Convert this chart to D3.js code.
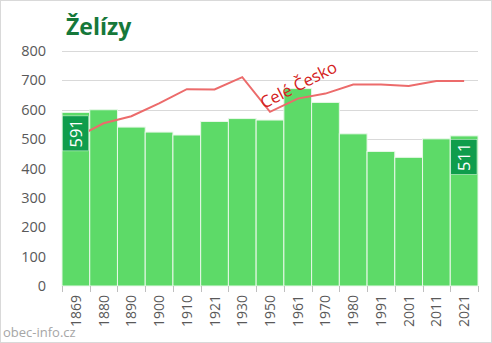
<!DOCTYPE html>
<html>
<head>
<meta charset="utf-8">
<script src="https://cdn.jsdelivr.net/npm/d3@7"></script>
<style>
  html, body { margin: 0; padding: 0; background: #fff; }
  svg { display: block; font-family: "Segoe UI", "Open Sans", "DejaVu Sans", sans-serif; }
</style>
</head>
<body>
<svg id="chart" width="492" height="343"></svg>
<script>
// Census years and population of Želízy
const years = ["1869","1880","1890","1900","1910","1921","1930","1950","1961","1970","1980","1991","2001","2011","2021"];
const population = [591, 600, 541, 524, 514, 560, 570, 565, 672, 625, 518, 458, 438, 501, 511];
// Whole-country trend rescaled to the village axis
const czechiaScaled = [505, 554, 578, 622, 670, 669, 711, 593, 638, 655, 686, 686, 681, 698, 698];
const yTicks = [0, 100, 200, 300, 400, 500, 600, 700, 800];

const svg = d3.select("#chart");
const W = 492, H = 343;
const m = { left: 62, right: 14, top: 51, bottom: 57 };

svg.append("rect").attr("x", 0.5).attr("y", 0.5).attr("width", W - 1).attr("height", H - 1)
  .attr("fill", "#fff").attr("stroke", "#d9d9d9");

const x = d3.scaleBand().domain(years).range([m.left, W - m.right]).padding(0);
const y = d3.scaleLinear().domain([0, 800]).range([H - m.bottom, m.top]);

// grid
svg.append("g").selectAll("line").data(yTicks.filter(d => d > 0)).join("line")
  .attr("x1", m.left).attr("x2", W - m.right)
  .attr("y1", d => Math.round(y(d)) + 0.5).attr("y2", d => Math.round(y(d)) + 0.5)
  .attr("stroke", "#d9d9d9").attr("stroke-width", 1);

// y labels
svg.append("g").selectAll("text").data(yTicks).join("text")
  .attr("x", 46).attr("y", d => y(d) + 5)
  .attr("text-anchor", "end").attr("font-size", 14.5).attr("fill", "#595959")
  .text(d => d);

// bars
svg.append("g").selectAll("rect").data(population).join("rect")
  .attr("x", (d, i) => x(years[i]))
  .attr("y", d => y(d))
  .attr("width", x.bandwidth())
  .attr("height", d => y(0) - y(d))
  .attr("fill", "#5dda68")
  .attr("stroke", "#e8f8e8").attr("stroke-width", 1);

// country line
const line = d3.line().x((d, i) => x(years[i]) + x.bandwidth() / 2).y(d => y(d));
svg.append("path").datum(czechiaScaled).attr("d", line)
  .attr("fill", "none").attr("stroke", "#ec6b6b").attr("stroke-width", 2);

// x axis ticks at band boundaries
const bounds = years.map(d => x(d)).concat([W - m.right]);
svg.append("g").selectAll("line").data(bounds).join("line")
  .attr("x1", d => Math.round(d) + 0.5).attr("x2", d => Math.round(d) + 0.5)
  .attr("y1", y(0)).attr("y2", y(0) + 6)
  .attr("stroke", "#bfbfbf");

// x labels
svg.append("g").selectAll("text").data(years).join("text")
  .attr("transform", d => `translate(${x(d) + x.bandwidth() / 2 + 5},${y(0) + 9}) rotate(-90)`)
  .attr("text-anchor", "end").attr("font-size", 14).attr("fill", "#595959")
  .text(d => d);

// value labels on first and last bars
[0, years.length - 1].forEach(i => {
  const bx = x(years[i]);
  const top = y(population[i]) + 3.5;
  const g = svg.append("g");
  g.append("rect").attr("x", bx + 0.5).attr("y", top).attr("width", x.bandwidth() - 1.5).attr("height", 35)
    .attr("fill", "#0f9d4c").attr("stroke", "#e8f8e8").attr("stroke-width", 0.5);
  g.append("text")
    .attr("transform", `translate(${bx + x.bandwidth() / 2 + 6},${top + 17.5}) rotate(-90)`)
    .attr("text-anchor", "middle").attr("font-size", 16.5).attr("fill", "#fff")
    .text(population[i]);
});

// series annotation
svg.append("text")
  .attr("transform", "translate(264,109) rotate(-27)")
  .attr("font-size", 16.5).attr("fill", "#d42020")
  .text("Celé Česko");

// title
svg.append("text").attr("x", 66).attr("y", 35)
  .attr("font-size", 23).attr("font-weight", "bold").attr("fill", "#16783a")
  .text("Želízy");

// source
svg.append("text").attr("x", 3).attr("y", 337)
  .attr("font-size", 13).attr("fill", "#a6a6a6")
  .text("obec-info.cz");
</script>
</body>
</html>
